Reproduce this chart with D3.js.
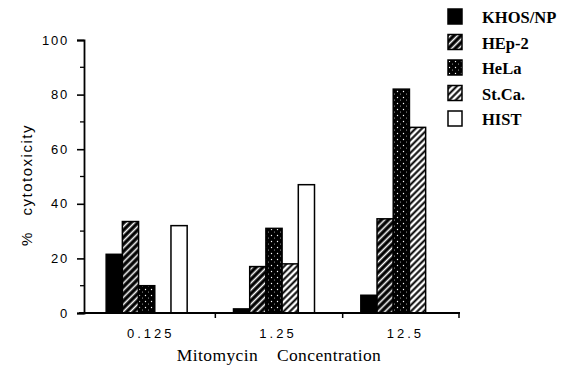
<!DOCTYPE html>
<html>
<head>
<meta charset="utf-8">
<script src="https://cdn.jsdelivr.net/npm/d3@7/dist/d3.min.js"></script>
<style>
  body { margin: 0; background: #fff; }
  svg { display: block; }
</style>
</head>
<body>
<svg width="576" height="378"></svg>
<script>
// data
let concentrations = ['0.125', '1.25', '12.5'];
let cellLines = ['KHOS/NP', 'HEp-2', 'HeLa', 'St.Ca.', 'HIST'];
let khos = [21.5, 1.5, 6.5];
let hep2 = [33.5, 17, 34.5];
let hela = [10, 31, 82];
let stca = [0, 18, 68];
let hist = [32, 47, 0];
let yTicks = [0, 20, 40, 60, 80, 100];
let yMinorTicks = [10, 30, 50, 70, 90];

let seriesValues = [khos, hep2, hela, stca, hist];

let svg = d3.select('svg');
let width = +svg.attr('width');
let height = +svg.attr('height');

let padding = { t: 40, r: 110, b: 65, l: 84 };

let yScale = d3.scaleLinear()
    .domain([0, 100])
    .range([height - padding.b, padding.t]);

let x0 = d3.scaleBand()
    .domain(concentrations)
    .range([83, 465])
    .paddingInner(0);

let groupW = 81;
let groupOff = (x0.bandwidth() - groupW) / 2;

let x1 = d3.scaleBand()
    .domain(cellLines)
    .range([0, groupW]);

// fill patterns
let defs = svg.append('defs');

let p = defs.append('pattern').attr('id', 'hep2')
    .attr('patternUnits', 'userSpaceOnUse')
    .attr('width', 5).attr('height', 5)
    .attr('patternTransform', 'rotate(45)');
p.append('rect').attr('width', 5).attr('height', 5).attr('fill', '#000');
p.append('line').attr('x1', 2.5).attr('y1', 0).attr('x2', 2.5).attr('y2', 5)
    .attr('stroke', '#fff').attr('stroke-width', 1.6);

p = defs.append('pattern').attr('id', 'stca')
    .attr('patternUnits', 'userSpaceOnUse')
    .attr('width', 4.5).attr('height', 4.5)
    .attr('patternTransform', 'rotate(45)');
p.append('rect').attr('width', 4.5).attr('height', 4.5).attr('fill', '#fff');
p.append('line').attr('x1', 2.25).attr('y1', 0).attr('x2', 2.25).attr('y2', 4.5)
    .attr('stroke', '#000').attr('stroke-width', 2);

p = defs.append('pattern').attr('id', 'hela')
    .attr('patternUnits', 'userSpaceOnUse')
    .attr('width', 6).attr('height', 6);
p.append('rect').attr('width', 6).attr('height', 6).attr('fill', '#000');
p.append('circle').attr('cx', 1.5).attr('cy', 1.5).attr('r', 0.7).attr('fill', '#fff');
p.append('circle').attr('cx', 4.5).attr('cy', 4).attr('r', 0.5).attr('fill', '#ccc');

let fills = ['#000', 'url(#hep2)', 'url(#hela)', 'url(#stca)', '#fff'];

// bars
let rows = [];
concentrations.forEach((c, i) => {
    cellLines.forEach((s, j) => {
        rows.push({ conc: c, line: s, idx: j, value: seriesValues[j][i] });
    });
});

svg.append('g').selectAll('.bar')
    .data(rows.filter(d => d.value > 0))
    .enter().append('rect')
    .attr('class', 'bar')
    .attr('x', d => x0(d.conc) + groupOff + x1(d.line))
    .attr('y', d => yScale(d.value))
    .attr('width', x1.bandwidth())
    .attr('height', d => yScale(0) - yScale(d.value))
    .attr('fill', d => fills[d.idx])
    .attr('stroke', '#000')
    .attr('stroke-width', 1.5);

// y axis
let yAxis = d3.axisLeft(yScale).tickValues(yTicks).tickSize(7).tickPadding(8);
let yG = svg.append('g')
    .attr('transform', 'translate(' + padding.l + ',0)')
    .call(yAxis);
yG.select('.domain').attr('stroke-width', 1.8);
yG.selectAll('.tick line').attr('stroke-width', 1.6);
yG.selectAll('.tick text')
    .attr('font-family', 'Liberation Sans, Arial, sans-serif')
    .attr('font-size', 13)
    .attr('letter-spacing', 1.8)
    .attr('fill', '#000');

svg.append('g').selectAll('line')
    .data(yMinorTicks)
    .enter().append('line')
    .attr('x1', padding.l - 4).attr('x2', padding.l)
    .attr('y1', d => yScale(d)).attr('y2', d => yScale(d))
    .attr('stroke', '#000').attr('stroke-width', 1.3);

// x axis
let xAxis = d3.axisBottom(x0).tickSize(0).tickPadding(16);
let xG = svg.append('g')
    .attr('transform', 'translate(0,' + yScale(0) + ')')
    .call(xAxis);
xG.select('.domain').remove();
xG.selectAll('.tick text')
    .attr('dx', 4)
    .attr('font-family', 'Liberation Sans, Arial, sans-serif')
    .attr('font-size', 13)
    .attr('letter-spacing', 3)
    .attr('fill', '#000');

svg.append('line')
    .attr('x1', 79).attr('x2', 460)
    .attr('y1', yScale(0)).attr('y2', yScale(0))
    .attr('stroke', '#000').attr('stroke-width', 2);

svg.append('g').selectAll('line')
    .data(concentrations.slice(0, 2))
    .enter().append('line')
    .attr('x1', d => x0(d) + x0.step() + 5)
    .attr('x2', d => x0(d) + x0.step() + 5)
    .attr('y1', yScale(0)).attr('y2', yScale(0) + 5)
    .attr('stroke', '#000').attr('stroke-width', 1.5);

svg.append('line')
    .attr('x1', 459).attr('x2', 459)
    .attr('y1', yScale(0) - 1).attr('y2', yScale(0) + 5)
    .attr('stroke', '#000').attr('stroke-width', 1.5);

// axis titles
svg.append('text')
    .attr('x', 279).attr('y', 361)
    .attr('text-anchor', 'middle')
    .attr('font-family', 'Liberation Serif, Times New Roman, serif')
    .attr('font-size', 17.5)
    .attr('letter-spacing', 0.4)
    .attr('word-spacing', 14)
    .text('Mitomycin Concentration');

svg.append('text')
    .attr('transform', 'translate(32,185) rotate(-90)')
    .attr('text-anchor', 'middle')
    .attr('font-family', 'Liberation Sans, Arial, sans-serif')
    .attr('font-size', 15)
    .attr('letter-spacing', 1.5)
    .attr('word-spacing', 10)
    .text('% cytotoxicity');

// legend
let legend = svg.append('g').selectAll('.legend')
    .data(cellLines)
    .enter().append('g')
    .attr('class', 'legend')
    .attr('transform', (d, i) => 'translate(448,' + (9 + i * 25.5) + ')');

legend.append('rect')
    .attr('width', 14).attr('height', 15)
    .attr('fill', (d, i) => fills[i])
    .attr('stroke', '#000')
    .attr('stroke-width', 1.5);

legend.append('text')
    .attr('x', 34).attr('y', 14)
    .attr('font-family', 'Liberation Serif, Times New Roman, serif')
    .attr('font-size', 16.5)
    .attr('font-weight', 'bold')
    .text(d => d);
</script>
</body>
</html>
